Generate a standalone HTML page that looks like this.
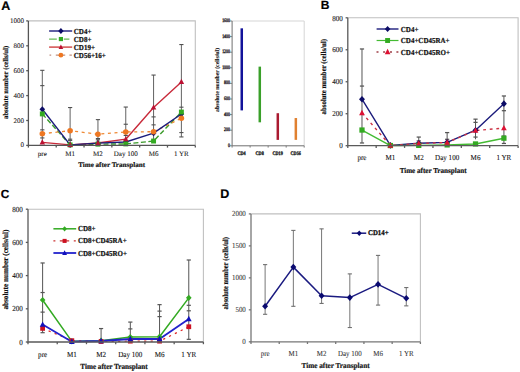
<!DOCTYPE html>
<html><head><meta charset="utf-8"><style>
html,body{margin:0;padding:0;background:#fff;}
svg{display:block;opacity:0.999;}
text{text-rendering:geometricPrecision;}
</style></head><body>
<svg width="520" height="372" viewBox="0 0 520 372">
<rect width="520" height="372" fill="#fff"/>
<path d="M232.10 21.00H304.20V145.80" fill="none" stroke="#d0d0d0" stroke-width="0.9"/>
<path d="M232.10 21.00V145.80H304.20" fill="none" stroke="#707070" stroke-width="1"/>
<path d="M230.10 145.80H232.10" stroke="#707070" stroke-width="0.9"/>
<text transform="translate(229.90 145.80) scale(0.720 1)" font-family='"Liberation Serif", serif' font-size="5.4" font-weight="normal" text-anchor="end" dominant-baseline="central" fill="#111" stroke="#111" stroke-width="0.35">0</text>
<path d="M230.10 130.20H232.10" stroke="#707070" stroke-width="0.9"/>
<text transform="translate(229.90 130.20) scale(0.720 1)" font-family='"Liberation Serif", serif' font-size="5.4" font-weight="normal" text-anchor="end" dominant-baseline="central" fill="#111" stroke="#111" stroke-width="0.35">200</text>
<path d="M230.10 114.60H232.10" stroke="#707070" stroke-width="0.9"/>
<text transform="translate(229.90 114.60) scale(0.720 1)" font-family='"Liberation Serif", serif' font-size="5.4" font-weight="normal" text-anchor="end" dominant-baseline="central" fill="#111" stroke="#111" stroke-width="0.35">400</text>
<path d="M230.10 99.00H232.10" stroke="#707070" stroke-width="0.9"/>
<text transform="translate(229.90 99.00) scale(0.720 1)" font-family='"Liberation Serif", serif' font-size="5.4" font-weight="normal" text-anchor="end" dominant-baseline="central" fill="#111" stroke="#111" stroke-width="0.35">600</text>
<path d="M230.10 83.40H232.10" stroke="#707070" stroke-width="0.9"/>
<text transform="translate(229.90 83.40) scale(0.720 1)" font-family='"Liberation Serif", serif' font-size="5.4" font-weight="normal" text-anchor="end" dominant-baseline="central" fill="#111" stroke="#111" stroke-width="0.35">800</text>
<path d="M230.10 67.80H232.10" stroke="#707070" stroke-width="0.9"/>
<text transform="translate(229.90 67.80) scale(0.720 1)" font-family='"Liberation Serif", serif' font-size="5.4" font-weight="normal" text-anchor="end" dominant-baseline="central" fill="#111" stroke="#111" stroke-width="0.35">1000</text>
<path d="M230.10 52.20H232.10" stroke="#707070" stroke-width="0.9"/>
<text transform="translate(229.90 52.20) scale(0.720 1)" font-family='"Liberation Serif", serif' font-size="5.4" font-weight="normal" text-anchor="end" dominant-baseline="central" fill="#111" stroke="#111" stroke-width="0.35">1200</text>
<path d="M230.10 36.60H232.10" stroke="#707070" stroke-width="0.9"/>
<text transform="translate(229.90 36.60) scale(0.720 1)" font-family='"Liberation Serif", serif' font-size="5.4" font-weight="normal" text-anchor="end" dominant-baseline="central" fill="#111" stroke="#111" stroke-width="0.35">1400</text>
<path d="M230.10 21.00H232.10" stroke="#707070" stroke-width="0.9"/>
<text transform="translate(229.90 21.00) scale(0.720 1)" font-family='"Liberation Serif", serif' font-size="5.4" font-weight="normal" text-anchor="end" dominant-baseline="central" fill="#111" stroke="#111" stroke-width="0.35">1600</text>
<path d="M232.10 145.80V147.60" stroke="#707070" stroke-width="0.9"/>
<path d="M250.12 145.80V147.60" stroke="#707070" stroke-width="0.9"/>
<path d="M268.15 145.80V147.60" stroke="#707070" stroke-width="0.9"/>
<path d="M286.18 145.80V147.60" stroke="#707070" stroke-width="0.9"/>
<path d="M304.20 145.80V147.60" stroke="#707070" stroke-width="0.9"/>
<rect x="240.51" y="28.33" width="2.5" height="82.06" fill="#12129a"/>
<text transform="translate(241.61 154.10) scale(0.800 1)" font-family='"Liberation Serif", serif' font-size="5.3" font-weight="bold" text-anchor="middle" dominant-baseline="central" fill="#111" stroke="#111" stroke-width="0.3">CD4</text>
<rect x="258.54" y="66.63" width="2.5" height="55.69" fill="#3aa02a"/>
<text transform="translate(259.64 154.10) scale(0.800 1)" font-family='"Liberation Serif", serif' font-size="5.3" font-weight="bold" text-anchor="middle" dominant-baseline="central" fill="#111" stroke="#111" stroke-width="0.3">CD8</text>
<rect x="276.56" y="113.20" width="2.5" height="26.68" fill="#aa1a30"/>
<text transform="translate(277.66 154.10) scale(0.800 1)" font-family='"Liberation Serif", serif' font-size="5.3" font-weight="bold" text-anchor="middle" dominant-baseline="central" fill="#111" stroke="#111" stroke-width="0.3">CD19</text>
<rect x="294.59" y="118.03" width="2.5" height="21.84" fill="#e08030"/>
<text transform="translate(295.69 154.10) scale(0.800 1)" font-family='"Liberation Serif", serif' font-size="5.3" font-weight="bold" text-anchor="middle" dominant-baseline="central" fill="#111" stroke="#111" stroke-width="0.3">CD56</text>
<text transform="translate(217.90 79.90) rotate(-90)" font-family='"Liberation Serif", serif' font-size="5.8" font-weight="bold" text-anchor="middle" dominant-baseline="central" fill="#111" stroke="#111" stroke-width="0.12">absolute number (cells/ul)</text>
<path d="M28.40 20.90H195.30V145.40" fill="none" stroke="#c0c0c0" stroke-width="1.1"/>
<path d="M42.31 70.33V142.41" stroke="#505050" stroke-width="0.9"/>
<path d="M40.21 70.33H44.41" stroke="#505050" stroke-width="1.1"/>
<path d="M40.21 85.64H44.41" stroke="#505050" stroke-width="1.1"/>
<path d="M40.21 129.84H44.41" stroke="#505050" stroke-width="1.1"/>
<path d="M40.21 137.93H44.41" stroke="#505050" stroke-width="1.1"/>
<path d="M70.12 107.55V145.40" stroke="#505050" stroke-width="0.9"/>
<path d="M68.03 107.55H72.22" stroke="#505050" stroke-width="1.1"/>
<path d="M68.03 139.18H72.22" stroke="#505050" stroke-width="1.1"/>
<path d="M68.03 140.42H72.22" stroke="#505050" stroke-width="1.1"/>
<path d="M97.94 119.63V145.40" stroke="#505050" stroke-width="0.9"/>
<path d="M95.84 119.63H100.04" stroke="#505050" stroke-width="1.1"/>
<path d="M95.84 138.55H100.04" stroke="#505050" stroke-width="1.1"/>
<path d="M95.84 139.80H100.04" stroke="#505050" stroke-width="1.1"/>
<path d="M125.76 107.05V145.40" stroke="#505050" stroke-width="0.9"/>
<path d="M123.66 107.05H127.86" stroke="#505050" stroke-width="1.1"/>
<path d="M123.66 124.24H127.86" stroke="#505050" stroke-width="1.1"/>
<path d="M123.66 135.44H127.86" stroke="#505050" stroke-width="1.1"/>
<path d="M153.57 75.06V141.04" stroke="#505050" stroke-width="0.9"/>
<path d="M151.47 75.06H155.67" stroke="#505050" stroke-width="1.1"/>
<path d="M151.47 116.89H155.67" stroke="#505050" stroke-width="1.1"/>
<path d="M151.47 124.86H155.67" stroke="#505050" stroke-width="1.1"/>
<path d="M151.47 141.04H155.67" stroke="#505050" stroke-width="1.1"/>
<path d="M181.39 44.56V136.93" stroke="#505050" stroke-width="0.9"/>
<path d="M179.29 44.56H183.49" stroke="#505050" stroke-width="1.1"/>
<path d="M179.29 107.18H183.49" stroke="#505050" stroke-width="1.1"/>
<path d="M179.29 132.58H183.49" stroke="#505050" stroke-width="1.1"/>
<path d="M179.29 136.93H183.49" stroke="#505050" stroke-width="1.1"/>
<polyline points="42.31,113.90 70.12,144.90 97.94,144.16 125.76,143.91 153.57,141.04 181.39,112.03" fill="none" stroke="#3a9a2a" stroke-width="1.4" stroke-linejoin="round" stroke-dasharray="5,2.5"/>
<polyline points="42.31,133.70 70.12,130.71 97.94,134.19 125.76,131.95 153.57,131.71 181.39,118.26" fill="none" stroke="#ee8833" stroke-width="1.3" stroke-linejoin="round" stroke-dasharray="3,3.6"/>
<polyline points="42.31,142.41 70.12,144.90 97.94,143.03 125.76,139.18 153.57,107.43 181.39,81.91" fill="none" stroke="#c82a3a" stroke-width="1.4" stroke-linejoin="round"/>
<polyline points="42.31,109.30 70.12,144.90 97.94,143.16 125.76,142.04 153.57,133.20 181.39,114.03" fill="none" stroke="#1c1c7c" stroke-width="1.4" stroke-linejoin="round"/>
<path d="M42.31 106.20L45.10 109.30L42.31 112.40L39.52 109.30Z" fill="#0c0c66"/>
<path d="M70.12 141.80L72.92 144.90L70.12 148.00L67.33 144.90Z" fill="#0c0c66"/>
<path d="M97.94 140.06L100.73 143.16L97.94 146.26L95.15 143.16Z" fill="#0c0c66"/>
<path d="M125.76 138.94L128.55 142.04L125.76 145.14L122.97 142.04Z" fill="#0c0c66"/>
<path d="M153.57 130.10L156.36 133.20L153.57 136.30L150.78 133.20Z" fill="#0c0c66"/>
<path d="M181.39 110.93L184.18 114.03L181.39 117.13L178.60 114.03Z" fill="#0c0c66"/>
<rect x="39.85" y="111.44" width="4.92" height="4.92" fill="#33aa22"/>
<rect x="67.67" y="142.44" width="4.92" height="4.92" fill="#33aa22"/>
<rect x="95.48" y="141.69" width="4.92" height="4.92" fill="#33aa22"/>
<rect x="123.30" y="141.45" width="4.92" height="4.92" fill="#33aa22"/>
<rect x="151.11" y="138.58" width="4.92" height="4.92" fill="#33aa22"/>
<rect x="178.93" y="109.57" width="4.92" height="4.92" fill="#33aa22"/>
<circle cx="42.31" cy="133.70" r="2.79" fill="#ee7722"/>
<circle cx="70.12" cy="130.71" r="2.79" fill="#ee7722"/>
<circle cx="97.94" cy="134.19" r="2.79" fill="#ee7722"/>
<circle cx="125.76" cy="131.95" r="2.79" fill="#ee7722"/>
<circle cx="153.57" cy="131.71" r="2.79" fill="#ee7722"/>
<circle cx="181.39" cy="118.26" r="2.79" fill="#ee7722"/>
<path d="M42.31 139.37L45.06 144.59L39.55 144.59Z" fill="#bb1133"/>
<path d="M70.12 141.86L72.88 147.08L67.37 147.08Z" fill="#bb1133"/>
<path d="M97.94 139.99L100.70 145.21L95.19 145.21Z" fill="#bb1133"/>
<path d="M125.76 136.13L128.51 141.35L123.00 141.35Z" fill="#bb1133"/>
<path d="M153.57 104.38L156.33 109.60L150.82 109.60Z" fill="#bb1133"/>
<path d="M181.39 78.86L184.15 84.08L178.64 84.08Z" fill="#bb1133"/>
<path d="M28.40 20.90V145.40H195.30" fill="none" stroke="#555" stroke-width="1.3"/>
<path d="M26.20 145.40H28.40" stroke="#555" stroke-width="1.3"/>
<text transform="translate(24.00 145.40)" font-family='"Liberation Serif", serif' font-size="7.0" font-weight="normal" text-anchor="end" dominant-baseline="central" fill="#111" stroke="#111" stroke-width="0.08">0</text>
<path d="M26.20 120.50H28.40" stroke="#555" stroke-width="1.3"/>
<text transform="translate(24.00 120.50)" font-family='"Liberation Serif", serif' font-size="7.0" font-weight="normal" text-anchor="end" dominant-baseline="central" fill="#111" stroke="#111" stroke-width="0.08">200</text>
<path d="M26.20 95.60H28.40" stroke="#555" stroke-width="1.3"/>
<text transform="translate(24.00 95.60)" font-family='"Liberation Serif", serif' font-size="7.0" font-weight="normal" text-anchor="end" dominant-baseline="central" fill="#111" stroke="#111" stroke-width="0.08">400</text>
<path d="M26.20 70.70H28.40" stroke="#555" stroke-width="1.3"/>
<text transform="translate(24.00 70.70)" font-family='"Liberation Serif", serif' font-size="7.0" font-weight="normal" text-anchor="end" dominant-baseline="central" fill="#111" stroke="#111" stroke-width="0.08">600</text>
<path d="M26.20 45.80H28.40" stroke="#555" stroke-width="1.3"/>
<text transform="translate(24.00 45.80)" font-family='"Liberation Serif", serif' font-size="7.0" font-weight="normal" text-anchor="end" dominant-baseline="central" fill="#111" stroke="#111" stroke-width="0.08">800</text>
<path d="M26.20 20.90H28.40" stroke="#555" stroke-width="1.3"/>
<text transform="translate(24.00 20.90)" font-family='"Liberation Serif", serif' font-size="7.0" font-weight="normal" text-anchor="end" dominant-baseline="central" fill="#111" stroke="#111" stroke-width="0.08">1000</text>
<path d="M28.40 145.40V147.60" stroke="#555" stroke-width="1.3"/>
<path d="M56.22 145.40V147.60" stroke="#555" stroke-width="1.3"/>
<path d="M84.03 145.40V147.60" stroke="#555" stroke-width="1.3"/>
<path d="M111.85 145.40V147.60" stroke="#555" stroke-width="1.3"/>
<path d="M139.67 145.40V147.60" stroke="#555" stroke-width="1.3"/>
<path d="M167.48 145.40V147.60" stroke="#555" stroke-width="1.3"/>
<path d="M195.30 145.40V147.60" stroke="#555" stroke-width="1.3"/>
<text transform="translate(42.31 154.00)" font-family='"Liberation Serif", serif' font-size="7.0" font-weight="normal" text-anchor="middle" dominant-baseline="central" fill="#111" stroke="#111" stroke-width="0.08">pre</text>
<text transform="translate(70.12 154.00)" font-family='"Liberation Serif", serif' font-size="7.0" font-weight="normal" text-anchor="middle" dominant-baseline="central" fill="#111" stroke="#111" stroke-width="0.08">M1</text>
<text transform="translate(97.94 154.00)" font-family='"Liberation Serif", serif' font-size="7.0" font-weight="normal" text-anchor="middle" dominant-baseline="central" fill="#111" stroke="#111" stroke-width="0.08">M2</text>
<text transform="translate(125.76 154.00)" font-family='"Liberation Serif", serif' font-size="7.0" font-weight="normal" text-anchor="middle" dominant-baseline="central" fill="#111" stroke="#111" stroke-width="0.08">Day 100</text>
<text transform="translate(153.57 154.00)" font-family='"Liberation Serif", serif' font-size="7.0" font-weight="normal" text-anchor="middle" dominant-baseline="central" fill="#111" stroke="#111" stroke-width="0.08">M6</text>
<text transform="translate(181.39 154.00)" font-family='"Liberation Serif", serif' font-size="7.0" font-weight="normal" text-anchor="middle" dominant-baseline="central" fill="#111" stroke="#111" stroke-width="0.08">1 YR</text>
<text transform="translate(111.60 165.00)" font-family='"Liberation Serif", serif' font-size="7.1" font-weight="bold" text-anchor="middle" dominant-baseline="central" fill="#111" stroke="#111" stroke-width="0.18">Time after Transplant</text>
<text transform="translate(5.70 82.40) rotate(-90) scale(0.920 1)" font-family='"Liberation Serif", serif' font-size="7.2" font-weight="bold" text-anchor="middle" dominant-baseline="central" fill="#111" stroke="#111" stroke-width="0.18">absolute number (cells/ul)</text>
<path d="M49.10 31.00H72.20" stroke="#1c1c7c" stroke-width="1.4"/>
<path d="M60.90 28.00L63.60 31.00L60.90 34.00L58.20 31.00Z" fill="#0c0c66"/>
<text transform="translate(73.80 31.00) scale(0.920 1)" font-family='"Liberation Serif", serif' font-size="7.6" font-weight="bold" text-anchor="start" dominant-baseline="central" fill="#111" stroke="#111" stroke-width="0.22">CD4+</text>
<path d="M49.10 39.05H56.80M63.80 39.05H69.40" stroke="#66bb55" stroke-width="1.2"/>
<rect x="58.81" y="36.96" width="4.18" height="4.18" fill="#33aa22"/>
<text transform="translate(73.80 39.05) scale(0.920 1)" font-family='"Liberation Serif", serif' font-size="7.6" font-weight="bold" text-anchor="start" dominant-baseline="central" fill="#111" stroke="#111" stroke-width="0.22">CD8+</text>
<path d="M49.10 47.10H72.20" stroke="#d04040" stroke-width="1.4"/>
<path d="M60.90 44.51L63.24 48.95L58.56 48.95Z" fill="#bb1133"/>
<text transform="translate(73.80 47.10) scale(0.920 1)" font-family='"Liberation Serif", serif' font-size="7.6" font-weight="bold" text-anchor="start" dominant-baseline="central" fill="#111" stroke="#111" stroke-width="0.22">CD19+</text>
<path d="M49.50 55.15H51.20M55.80 55.15H65.20M69.40 55.15H71.90" stroke="#c09080" stroke-width="1.2"/>
<circle cx="60.90" cy="55.15" r="2.37" fill="#ee7722"/>
<text transform="translate(73.80 55.15) scale(0.920 1)" font-family='"Liberation Serif", serif' font-size="7.6" font-weight="bold" text-anchor="start" dominant-baseline="central" fill="#111" stroke="#111" stroke-width="0.22">CD56+16+</text>
<text transform="translate(1.20 6.00)" font-family='"Liberation Sans", sans-serif' font-size="12.5" font-weight="bold" text-anchor="start" dominant-baseline="central" fill="#000" stroke="#000" stroke-width="0.2">A</text>
<path d="M347.80 17.80H518.10V145.70" fill="none" stroke="#c0c0c0" stroke-width="1.1"/>
<path d="M361.99 48.98V142.98" stroke="#555" stroke-width="1.0"/>
<path d="M359.89 48.98H364.09" stroke="#555" stroke-width="1.25"/>
<path d="M359.89 86.07H364.09" stroke="#555" stroke-width="1.25"/>
<path d="M359.89 142.98H364.09" stroke="#555" stroke-width="1.25"/>
<path d="M418.76 137.07V145.70" stroke="#555" stroke-width="1.0"/>
<path d="M416.66 137.07H420.86" stroke="#555" stroke-width="1.25"/>
<path d="M416.66 140.90H420.86" stroke="#555" stroke-width="1.25"/>
<path d="M447.14 132.59V145.70" stroke="#555" stroke-width="1.0"/>
<path d="M445.04 132.59H449.24" stroke="#555" stroke-width="1.25"/>
<path d="M445.04 139.30H449.24" stroke="#555" stroke-width="1.25"/>
<path d="M475.53 119.16V139.30" stroke="#555" stroke-width="1.0"/>
<path d="M473.43 119.16H477.63" stroke="#555" stroke-width="1.25"/>
<path d="M473.43 122.36H477.63" stroke="#555" stroke-width="1.25"/>
<path d="M473.43 137.07H477.63" stroke="#555" stroke-width="1.25"/>
<path d="M503.91 95.98V143.46" stroke="#555" stroke-width="1.0"/>
<path d="M501.81 95.98H506.01" stroke="#555" stroke-width="1.25"/>
<path d="M501.81 110.69H506.01" stroke="#555" stroke-width="1.25"/>
<path d="M501.81 136.11H506.01" stroke="#555" stroke-width="1.25"/>
<path d="M501.81 143.46H506.01" stroke="#555" stroke-width="1.25"/>
<polyline points="361.99,99.18 390.38,145.38 418.76,143.30 447.14,142.34 475.53,130.19 503.91,103.65" fill="none" stroke="#1c1c7c" stroke-width="1.4" stroke-linejoin="round"/>
<polyline points="361.99,130.03 390.38,145.54 418.76,145.38 447.14,144.90 475.53,143.94 503.91,138.19" fill="none" stroke="#44bb33" stroke-width="1.4" stroke-linejoin="round"/>
<polyline points="361.99,112.93 390.38,145.54 418.76,143.46 447.14,142.50 475.53,130.51 503.91,128.11" fill="none" stroke="#cc3344" stroke-width="1.4" stroke-linejoin="round" stroke-dasharray="2.8,3.8"/>
<path d="M361.99 95.88L364.96 99.18L361.99 102.48L359.02 99.18Z" fill="#0c0c66"/>
<path d="M390.38 142.08L393.35 145.38L390.38 148.68L387.40 145.38Z" fill="#0c0c66"/>
<path d="M418.76 140.00L421.73 143.30L418.76 146.60L415.79 143.30Z" fill="#0c0c66"/>
<path d="M447.14 139.04L450.11 142.34L447.14 145.64L444.17 142.34Z" fill="#0c0c66"/>
<path d="M475.53 126.89L478.50 130.19L475.53 133.49L472.56 130.19Z" fill="#0c0c66"/>
<path d="M503.91 100.35L506.88 103.65L503.91 106.95L500.94 103.65Z" fill="#0c0c66"/>
<rect x="359.37" y="127.41" width="5.25" height="5.25" fill="#33aa22"/>
<rect x="387.75" y="142.92" width="5.25" height="5.25" fill="#33aa22"/>
<rect x="416.13" y="142.76" width="5.25" height="5.25" fill="#33aa22"/>
<rect x="444.52" y="142.28" width="5.25" height="5.25" fill="#33aa22"/>
<rect x="472.90" y="141.32" width="5.25" height="5.25" fill="#33aa22"/>
<rect x="501.28" y="135.56" width="5.25" height="5.25" fill="#33aa22"/>
<path d="M361.99 109.78L364.84 115.18L359.14 115.18Z" fill="#dd1133"/>
<path d="M390.38 142.39L393.23 147.79L387.52 147.79Z" fill="#dd1133"/>
<path d="M418.76 140.31L421.61 145.71L415.91 145.71Z" fill="#dd1133"/>
<path d="M447.14 139.35L449.99 144.75L444.29 144.75Z" fill="#dd1133"/>
<path d="M475.53 127.36L478.38 132.76L472.68 132.76Z" fill="#dd1133"/>
<path d="M503.91 124.96L506.76 130.36L501.06 130.36Z" fill="#dd1133"/>
<path d="M347.80 17.80V145.70H518.10" fill="none" stroke="#5a5a5a" stroke-width="1.3"/>
<path d="M345.60 145.70H347.80" stroke="#5a5a5a" stroke-width="1.3"/>
<text transform="translate(342.80 145.90) scale(0.930 1)" font-family='"Liberation Serif", serif' font-size="7.6" font-weight="normal" text-anchor="end" dominant-baseline="central" fill="#111" stroke="#111" stroke-width="0.1">0</text>
<path d="M345.60 113.72H347.80" stroke="#5a5a5a" stroke-width="1.3"/>
<text transform="translate(342.80 113.92) scale(0.930 1)" font-family='"Liberation Serif", serif' font-size="7.6" font-weight="normal" text-anchor="end" dominant-baseline="central" fill="#111" stroke="#111" stroke-width="0.1">200</text>
<path d="M345.60 81.75H347.80" stroke="#5a5a5a" stroke-width="1.3"/>
<text transform="translate(342.80 81.95) scale(0.930 1)" font-family='"Liberation Serif", serif' font-size="7.6" font-weight="normal" text-anchor="end" dominant-baseline="central" fill="#111" stroke="#111" stroke-width="0.1">400</text>
<path d="M345.60 49.77H347.80" stroke="#5a5a5a" stroke-width="1.3"/>
<text transform="translate(342.80 49.97) scale(0.930 1)" font-family='"Liberation Serif", serif' font-size="7.6" font-weight="normal" text-anchor="end" dominant-baseline="central" fill="#111" stroke="#111" stroke-width="0.1">600</text>
<path d="M345.60 17.80H347.80" stroke="#5a5a5a" stroke-width="1.3"/>
<text transform="translate(342.80 18.00) scale(0.930 1)" font-family='"Liberation Serif", serif' font-size="7.6" font-weight="normal" text-anchor="end" dominant-baseline="central" fill="#111" stroke="#111" stroke-width="0.1">800</text>
<path d="M347.80 145.70V147.90" stroke="#5a5a5a" stroke-width="1.3"/>
<path d="M376.18 145.70V147.90" stroke="#5a5a5a" stroke-width="1.3"/>
<path d="M404.57 145.70V147.90" stroke="#5a5a5a" stroke-width="1.3"/>
<path d="M432.95 145.70V147.90" stroke="#5a5a5a" stroke-width="1.3"/>
<path d="M461.33 145.70V147.90" stroke="#5a5a5a" stroke-width="1.3"/>
<path d="M489.72 145.70V147.90" stroke="#5a5a5a" stroke-width="1.3"/>
<path d="M518.10 145.70V147.90" stroke="#5a5a5a" stroke-width="1.3"/>
<text transform="translate(361.99 157.00) scale(0.930 1)" font-family='"Liberation Serif", serif' font-size="7.6" font-weight="normal" text-anchor="middle" dominant-baseline="central" fill="#111" stroke="#111" stroke-width="0.1">pre</text>
<text transform="translate(390.38 157.00) scale(0.930 1)" font-family='"Liberation Serif", serif' font-size="7.6" font-weight="normal" text-anchor="middle" dominant-baseline="central" fill="#111" stroke="#111" stroke-width="0.1">M1</text>
<text transform="translate(418.76 157.00) scale(0.930 1)" font-family='"Liberation Serif", serif' font-size="7.6" font-weight="normal" text-anchor="middle" dominant-baseline="central" fill="#111" stroke="#111" stroke-width="0.1">M2</text>
<text transform="translate(447.14 157.00) scale(0.930 1)" font-family='"Liberation Serif", serif' font-size="7.6" font-weight="normal" text-anchor="middle" dominant-baseline="central" fill="#111" stroke="#111" stroke-width="0.1">Day 100</text>
<text transform="translate(475.53 157.00) scale(0.930 1)" font-family='"Liberation Serif", serif' font-size="7.6" font-weight="normal" text-anchor="middle" dominant-baseline="central" fill="#111" stroke="#111" stroke-width="0.1">M6</text>
<text transform="translate(503.91 157.00) scale(0.930 1)" font-family='"Liberation Serif", serif' font-size="7.6" font-weight="normal" text-anchor="middle" dominant-baseline="central" fill="#111" stroke="#111" stroke-width="0.1">1 YR</text>
<text transform="translate(433.10 170.20) scale(0.935 1)" font-family='"Liberation Serif", serif' font-size="7.6" font-weight="bold" text-anchor="middle" dominant-baseline="central" fill="#111" stroke="#111" stroke-width="0.2">Time after Transplant</text>
<text transform="translate(323.00 76.75) rotate(-90) scale(0.910 1)" font-family='"Liberation Serif", serif' font-size="7.5" font-weight="bold" text-anchor="middle" dominant-baseline="central" fill="#111" stroke="#111" stroke-width="0.2">absolute number (cells/ul)</text>
<path d="M376.60 29.00H398.50" stroke="#1c1c7c" stroke-width="1.4"/>
<path d="M387.60 25.90L390.39 29.00L387.60 32.10L384.81 29.00Z" fill="#0c0c66"/>
<text transform="translate(400.80 29.00) scale(0.920 1)" font-family='"Liberation Serif", serif' font-size="7.6" font-weight="bold" text-anchor="start" dominant-baseline="central" fill="#111" stroke="#111" stroke-width="0.22">CD4+</text>
<path d="M376.60 40.50H398.50" stroke="#44bb33" stroke-width="1.2"/>
<rect x="385.14" y="38.04" width="4.92" height="4.92" fill="#33aa22"/>
<text transform="translate(400.80 40.50) scale(0.920 1)" font-family='"Liberation Serif", serif' font-size="7.6" font-weight="bold" text-anchor="start" dominant-baseline="central" fill="#111" stroke="#111" stroke-width="0.22">CD4+CD45RA+</text>
<path d="M376.50 52.00H378.50M383.10 52.00H385.10M390.00 52.00H392.00M396.40 52.00H398.40" stroke="#a04048" stroke-width="1.4"/>
<path d="M387.60 48.85L390.45 54.25L384.75 54.25Z" fill="#dd1133"/>
<text transform="translate(400.80 52.00) scale(0.920 1)" font-family='"Liberation Serif", serif' font-size="7.6" font-weight="bold" text-anchor="start" dominant-baseline="central" fill="#111" stroke="#111" stroke-width="0.22">CD4+CD45RO+</text>
<text transform="translate(320.80 5.20)" font-family='"Liberation Sans", sans-serif' font-size="12" font-weight="bold" text-anchor="start" dominant-baseline="central" fill="#000" stroke="#000" stroke-width="0.2">B</text>
<path d="M28.00 209.20H203.40V342.00" fill="none" stroke="#c0c0c0" stroke-width="1.1"/>
<path d="M42.62 262.98V332.70" stroke="#555" stroke-width="1.0"/>
<path d="M40.52 262.98H44.72" stroke="#555" stroke-width="1.2"/>
<path d="M40.52 292.53H44.72" stroke="#555" stroke-width="1.2"/>
<path d="M40.52 312.12H44.72" stroke="#555" stroke-width="1.2"/>
<path d="M40.52 332.70H44.72" stroke="#555" stroke-width="1.2"/>
<path d="M101.08 328.55V342.00" stroke="#555" stroke-width="1.0"/>
<path d="M98.98 328.55H103.18" stroke="#555" stroke-width="1.2"/>
<path d="M130.32 322.08V342.00" stroke="#555" stroke-width="1.0"/>
<path d="M128.22 322.08H132.42" stroke="#555" stroke-width="1.2"/>
<path d="M128.22 328.89H132.42" stroke="#555" stroke-width="1.2"/>
<path d="M159.55 304.65V342.00" stroke="#555" stroke-width="1.0"/>
<path d="M157.45 304.65H161.65" stroke="#555" stroke-width="1.2"/>
<path d="M157.45 311.12H161.65" stroke="#555" stroke-width="1.2"/>
<path d="M157.45 316.60H161.65" stroke="#555" stroke-width="1.2"/>
<path d="M188.78 260.00V339.34" stroke="#555" stroke-width="1.0"/>
<path d="M186.68 260.00H190.88" stroke="#555" stroke-width="1.2"/>
<path d="M186.68 305.31H190.88" stroke="#555" stroke-width="1.2"/>
<path d="M186.68 310.79H190.88" stroke="#555" stroke-width="1.2"/>
<path d="M186.68 339.34H190.88" stroke="#555" stroke-width="1.2"/>
<polyline points="42.62,300.00 71.85,341.34 101.08,340.67 130.32,337.02 159.55,336.69 188.78,297.84" fill="none" stroke="#33aa22" stroke-width="1.5" stroke-linejoin="round"/>
<polyline points="42.62,328.39 71.85,340.67 101.08,341.50 130.32,341.17 159.55,341.17 188.78,326.73" fill="none" stroke="#dd2222" stroke-width="1.2" stroke-linejoin="round" stroke-dasharray="2.2,4.3"/>
<polyline points="42.62,324.57 71.85,341.67 101.08,341.00 130.32,339.01 159.55,339.01 188.78,318.93" fill="none" stroke="#2222cc" stroke-width="1.8" stroke-linejoin="round"/>
<path d="M42.62 296.90L45.41 300.00L42.62 303.10L39.83 300.00Z" fill="#33aa22"/>
<path d="M71.85 338.24L74.64 341.34L71.85 344.44L69.06 341.34Z" fill="#33aa22"/>
<path d="M101.08 337.57L103.87 340.67L101.08 343.77L98.29 340.67Z" fill="#33aa22"/>
<path d="M130.32 333.92L133.11 337.02L130.32 340.12L127.53 337.02Z" fill="#33aa22"/>
<path d="M159.55 333.59L162.34 336.69L159.55 339.79L156.76 336.69Z" fill="#33aa22"/>
<path d="M188.78 294.74L191.57 297.84L188.78 300.94L185.99 297.84Z" fill="#33aa22"/>
<rect x="40.24" y="326.01" width="4.76" height="4.76" fill="#cc1122"/>
<rect x="69.47" y="338.29" width="4.76" height="4.76" fill="#cc1122"/>
<rect x="98.71" y="339.12" width="4.76" height="4.76" fill="#cc1122"/>
<rect x="127.94" y="338.79" width="4.76" height="4.76" fill="#cc1122"/>
<rect x="157.17" y="338.79" width="4.76" height="4.76" fill="#cc1122"/>
<rect x="186.41" y="324.35" width="4.76" height="4.76" fill="#cc1122"/>
<path d="M42.62 321.42L45.47 326.82L39.77 326.82Z" fill="#1111bb"/>
<path d="M71.85 338.52L74.70 343.92L69.00 343.92Z" fill="#1111bb"/>
<path d="M101.08 337.85L103.93 343.25L98.23 343.25Z" fill="#1111bb"/>
<path d="M130.32 335.86L133.17 341.26L127.47 341.26Z" fill="#1111bb"/>
<path d="M159.55 335.86L162.40 341.26L156.70 341.26Z" fill="#1111bb"/>
<path d="M188.78 315.78L191.63 321.18L185.93 321.18Z" fill="#1111bb"/>
<path d="M28.00 209.20V342.00H203.40" fill="none" stroke="#5a5a5a" stroke-width="1.3"/>
<path d="M25.80 342.00H28.00" stroke="#5a5a5a" stroke-width="1.3"/>
<text transform="translate(22.80 342.00) scale(0.920 1)" font-family='"Liberation Serif", serif' font-size="7.7" font-weight="normal" text-anchor="end" dominant-baseline="central" fill="#111" stroke="#111" stroke-width="0.1">0</text>
<path d="M25.80 308.80H28.00" stroke="#5a5a5a" stroke-width="1.3"/>
<text transform="translate(22.80 308.80) scale(0.920 1)" font-family='"Liberation Serif", serif' font-size="7.7" font-weight="normal" text-anchor="end" dominant-baseline="central" fill="#111" stroke="#111" stroke-width="0.1">200</text>
<path d="M25.80 275.60H28.00" stroke="#5a5a5a" stroke-width="1.3"/>
<text transform="translate(22.80 275.60) scale(0.920 1)" font-family='"Liberation Serif", serif' font-size="7.7" font-weight="normal" text-anchor="end" dominant-baseline="central" fill="#111" stroke="#111" stroke-width="0.1">400</text>
<path d="M25.80 242.40H28.00" stroke="#5a5a5a" stroke-width="1.3"/>
<text transform="translate(22.80 242.40) scale(0.920 1)" font-family='"Liberation Serif", serif' font-size="7.7" font-weight="normal" text-anchor="end" dominant-baseline="central" fill="#111" stroke="#111" stroke-width="0.1">600</text>
<path d="M25.80 209.20H28.00" stroke="#5a5a5a" stroke-width="1.3"/>
<text transform="translate(22.80 209.20) scale(0.920 1)" font-family='"Liberation Serif", serif' font-size="7.7" font-weight="normal" text-anchor="end" dominant-baseline="central" fill="#111" stroke="#111" stroke-width="0.1">800</text>
<path d="M28.00 342.00V344.20" stroke="#5a5a5a" stroke-width="1.3"/>
<path d="M57.23 342.00V344.20" stroke="#5a5a5a" stroke-width="1.3"/>
<path d="M86.47 342.00V344.20" stroke="#5a5a5a" stroke-width="1.3"/>
<path d="M115.70 342.00V344.20" stroke="#5a5a5a" stroke-width="1.3"/>
<path d="M144.93 342.00V344.20" stroke="#5a5a5a" stroke-width="1.3"/>
<path d="M174.17 342.00V344.20" stroke="#5a5a5a" stroke-width="1.3"/>
<path d="M203.40 342.00V344.20" stroke="#5a5a5a" stroke-width="1.3"/>
<text transform="translate(42.62 354.40) scale(0.920 1)" font-family='"Liberation Serif", serif' font-size="7.7" font-weight="normal" text-anchor="middle" dominant-baseline="central" fill="#111" stroke="#111" stroke-width="0.1">pre</text>
<text transform="translate(71.85 354.40) scale(0.920 1)" font-family='"Liberation Serif", serif' font-size="7.7" font-weight="normal" text-anchor="middle" dominant-baseline="central" fill="#111" stroke="#111" stroke-width="0.1">M1</text>
<text transform="translate(101.08 354.40) scale(0.920 1)" font-family='"Liberation Serif", serif' font-size="7.7" font-weight="normal" text-anchor="middle" dominant-baseline="central" fill="#111" stroke="#111" stroke-width="0.1">M2</text>
<text transform="translate(130.32 354.40) scale(0.920 1)" font-family='"Liberation Serif", serif' font-size="7.7" font-weight="normal" text-anchor="middle" dominant-baseline="central" fill="#111" stroke="#111" stroke-width="0.1">Day 100</text>
<text transform="translate(159.55 354.40) scale(0.920 1)" font-family='"Liberation Serif", serif' font-size="7.7" font-weight="normal" text-anchor="middle" dominant-baseline="central" fill="#111" stroke="#111" stroke-width="0.1">M6</text>
<text transform="translate(188.78 354.40) scale(0.920 1)" font-family='"Liberation Serif", serif' font-size="7.7" font-weight="normal" text-anchor="middle" dominant-baseline="central" fill="#111" stroke="#111" stroke-width="0.1">1 YR</text>
<text transform="translate(114.00 366.80) scale(0.930 1)" font-family='"Liberation Serif", serif' font-size="7.7" font-weight="bold" text-anchor="middle" dominant-baseline="central" fill="#111" stroke="#111" stroke-width="0.2">Time after Transplant</text>
<text transform="translate(5.50 269.60) rotate(-90) scale(0.930 1)" font-family='"Liberation Serif", serif' font-size="7.8" font-weight="bold" text-anchor="middle" dominant-baseline="central" fill="#111" stroke="#111" stroke-width="0.2">absolute number (cells/ul)</text>
<path d="M53.40 228.80H76.20" stroke="#33aa22" stroke-width="1.5"/>
<path d="M64.60 226.17L66.97 228.80L64.60 231.44L62.23 228.80Z" fill="#33aa22"/>
<text transform="translate(77.90 228.80) scale(0.920 1)" font-family='"Liberation Serif", serif' font-size="7.6" font-weight="bold" text-anchor="start" dominant-baseline="central" fill="#111" stroke="#111" stroke-width="0.22">CD8+</text>
<path d="M53.40 240.90H55.40M59.80 240.90H69.20M73.80 240.90H75.80" stroke="#cc3333" stroke-width="1.2"/>
<rect x="62.58" y="238.88" width="4.04" height="4.04" fill="#cc1122"/>
<text transform="translate(77.90 240.90) scale(0.920 1)" font-family='"Liberation Serif", serif' font-size="7.6" font-weight="bold" text-anchor="start" dominant-baseline="central" fill="#111" stroke="#111" stroke-width="0.22">CD8+CD45RA+</text>
<path d="M53.40 253.00H76.20" stroke="#2222cc" stroke-width="1.8"/>
<path d="M64.60 250.32L67.02 254.91L62.18 254.91Z" fill="#1111bb"/>
<text transform="translate(77.90 253.00) scale(0.920 1)" font-family='"Liberation Serif", serif' font-size="7.6" font-weight="bold" text-anchor="start" dominant-baseline="central" fill="#111" stroke="#111" stroke-width="0.22">CD8+CD45RO+</text>
<text transform="translate(0.70 193.90)" font-family='"Liberation Sans", sans-serif' font-size="11.8" font-weight="bold" text-anchor="start" dominant-baseline="central" fill="#000" stroke="#000" stroke-width="0.2">C</text>
<path d="M251.00 213.90H420.40V341.80" fill="none" stroke="#c0c0c0" stroke-width="1.1"/>
<path d="M265.12 264.61V314.30" stroke="#707070" stroke-width="0.95"/>
<path d="M263.02 264.61H267.22" stroke="#707070" stroke-width="1.1"/>
<path d="M263.02 314.30H267.22" stroke="#707070" stroke-width="1.1"/>
<path d="M293.35 230.40V306.31" stroke="#707070" stroke-width="0.95"/>
<path d="M291.25 230.40H295.45" stroke="#707070" stroke-width="1.1"/>
<path d="M291.25 306.31H295.45" stroke="#707070" stroke-width="1.1"/>
<path d="M321.58 228.86V303.43" stroke="#707070" stroke-width="0.95"/>
<path d="M319.48 228.86H323.68" stroke="#707070" stroke-width="1.1"/>
<path d="M319.48 303.43H323.68" stroke="#707070" stroke-width="1.1"/>
<path d="M349.82 273.89V327.54" stroke="#707070" stroke-width="0.95"/>
<path d="M347.72 273.89H351.92" stroke="#707070" stroke-width="1.1"/>
<path d="M347.72 327.54H351.92" stroke="#707070" stroke-width="1.1"/>
<path d="M378.05 255.40V305.09" stroke="#707070" stroke-width="0.95"/>
<path d="M375.95 255.40H380.15" stroke="#707070" stroke-width="1.1"/>
<path d="M375.95 305.09H380.15" stroke="#707070" stroke-width="1.1"/>
<path d="M406.28 287.57V305.86" stroke="#707070" stroke-width="0.95"/>
<path d="M404.18 287.57H408.38" stroke="#707070" stroke-width="1.1"/>
<path d="M404.18 305.86H408.38" stroke="#707070" stroke-width="1.1"/>
<polyline points="265.12,306.24 293.35,267.11 321.58,295.82 349.82,297.61 378.05,284.37 406.28,298.31" fill="none" stroke="#1a1a80" stroke-width="1.5" stroke-linejoin="round"/>
<path d="M265.12 302.94L268.09 306.24L265.12 309.54L262.15 306.24Z" fill="#0a0a70"/>
<path d="M293.35 263.81L296.32 267.11L293.35 270.41L290.38 267.11Z" fill="#0a0a70"/>
<path d="M321.58 292.52L324.55 295.82L321.58 299.12L318.61 295.82Z" fill="#0a0a70"/>
<path d="M349.82 294.31L352.79 297.61L349.82 300.91L346.85 297.61Z" fill="#0a0a70"/>
<path d="M378.05 281.07L381.02 284.37L378.05 287.67L375.08 284.37Z" fill="#0a0a70"/>
<path d="M406.28 295.01L409.25 298.31L406.28 301.61L403.31 298.31Z" fill="#0a0a70"/>
<path d="M251.00 213.90V341.80H420.40" fill="none" stroke="#777" stroke-width="1.3"/>
<path d="M248.80 341.80H251.00" stroke="#777" stroke-width="1.3"/>
<text transform="translate(245.80 341.80) scale(0.900 1)" font-family='"Liberation Serif", serif' font-size="7.7" font-weight="normal" text-anchor="end" dominant-baseline="central" fill="#333" stroke="#333" stroke-width="0.08">0</text>
<path d="M248.80 309.82H251.00" stroke="#777" stroke-width="1.3"/>
<text transform="translate(245.80 309.82) scale(0.900 1)" font-family='"Liberation Serif", serif' font-size="7.7" font-weight="normal" text-anchor="end" dominant-baseline="central" fill="#333" stroke="#333" stroke-width="0.08">500</text>
<path d="M248.80 277.85H251.00" stroke="#777" stroke-width="1.3"/>
<text transform="translate(245.80 277.85) scale(0.900 1)" font-family='"Liberation Serif", serif' font-size="7.7" font-weight="normal" text-anchor="end" dominant-baseline="central" fill="#333" stroke="#333" stroke-width="0.08">1000</text>
<path d="M248.80 245.88H251.00" stroke="#777" stroke-width="1.3"/>
<text transform="translate(245.80 245.88) scale(0.900 1)" font-family='"Liberation Serif", serif' font-size="7.7" font-weight="normal" text-anchor="end" dominant-baseline="central" fill="#333" stroke="#333" stroke-width="0.08">1500</text>
<path d="M248.80 213.90H251.00" stroke="#777" stroke-width="1.3"/>
<text transform="translate(245.80 213.90) scale(0.900 1)" font-family='"Liberation Serif", serif' font-size="7.7" font-weight="normal" text-anchor="end" dominant-baseline="central" fill="#333" stroke="#333" stroke-width="0.08">2000</text>
<path d="M251.00 341.80V344.00" stroke="#777" stroke-width="1.3"/>
<path d="M279.23 341.80V344.00" stroke="#777" stroke-width="1.3"/>
<path d="M307.47 341.80V344.00" stroke="#777" stroke-width="1.3"/>
<path d="M335.70 341.80V344.00" stroke="#777" stroke-width="1.3"/>
<path d="M363.93 341.80V344.00" stroke="#777" stroke-width="1.3"/>
<path d="M392.17 341.80V344.00" stroke="#777" stroke-width="1.3"/>
<path d="M420.40 341.80V344.00" stroke="#777" stroke-width="1.3"/>
<text transform="translate(265.12 353.20) scale(0.900 1)" font-family='"Liberation Serif", serif' font-size="7.7" font-weight="normal" text-anchor="middle" dominant-baseline="central" fill="#333" stroke="#333" stroke-width="0.08">pre</text>
<text transform="translate(293.35 353.20) scale(0.900 1)" font-family='"Liberation Serif", serif' font-size="7.7" font-weight="normal" text-anchor="middle" dominant-baseline="central" fill="#333" stroke="#333" stroke-width="0.08">M1</text>
<text transform="translate(321.58 353.20) scale(0.900 1)" font-family='"Liberation Serif", serif' font-size="7.7" font-weight="normal" text-anchor="middle" dominant-baseline="central" fill="#333" stroke="#333" stroke-width="0.08">M2</text>
<text transform="translate(349.82 353.20) scale(0.900 1)" font-family='"Liberation Serif", serif' font-size="7.7" font-weight="normal" text-anchor="middle" dominant-baseline="central" fill="#333" stroke="#333" stroke-width="0.08">Day 100</text>
<text transform="translate(378.05 353.20) scale(0.900 1)" font-family='"Liberation Serif", serif' font-size="7.7" font-weight="normal" text-anchor="middle" dominant-baseline="central" fill="#333" stroke="#333" stroke-width="0.08">M6</text>
<text transform="translate(406.28 353.20) scale(0.900 1)" font-family='"Liberation Serif", serif' font-size="7.7" font-weight="normal" text-anchor="middle" dominant-baseline="central" fill="#333" stroke="#333" stroke-width="0.08">1 YR</text>
<text transform="translate(335.50 365.10) scale(0.940 1)" font-family='"Liberation Serif", serif' font-size="7.7" font-weight="bold" text-anchor="middle" dominant-baseline="central" fill="#111" stroke="#111" stroke-width="0.18">Time after Transplant</text>
<text transform="translate(225.00 273.30) rotate(-90) scale(0.840 1)" font-family='"Liberation Serif", serif' font-size="7.8" font-weight="bold" text-anchor="middle" dominant-baseline="central" fill="#111" stroke="#111" stroke-width="0.18">absolute number (cells/ul)</text>
<path d="M351.75 233.20H366.25" stroke="#1a1a80" stroke-width="1.5"/>
<path d="M359.25 230.39L361.77 233.20L359.25 236.00L356.73 233.20Z" fill="#0a0a70"/>
<text transform="translate(368.00 233.20) scale(0.950 1)" font-family='"Liberation Serif", serif' font-size="7.2" font-weight="bold" text-anchor="start" dominant-baseline="central" fill="#111" stroke="#111" stroke-width="0.3">CD14+</text>
<text transform="translate(220.30 194.00)" font-family='"Liberation Sans", sans-serif' font-size="12.5" font-weight="bold" text-anchor="start" dominant-baseline="central" fill="#000" stroke="#000" stroke-width="0.2">D</text>
</svg>
</body></html>
